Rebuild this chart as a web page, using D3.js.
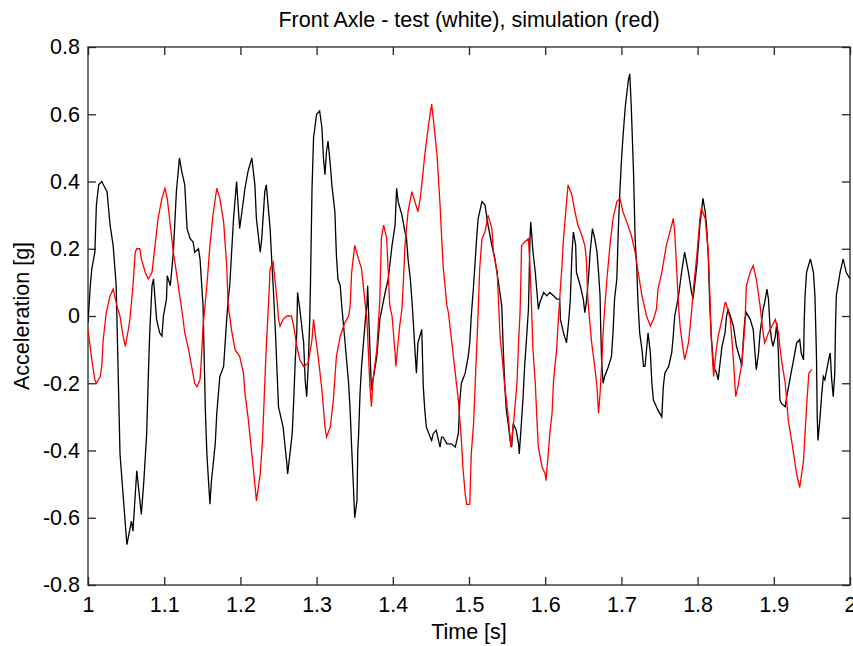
<!DOCTYPE html>
<html><head><meta charset="utf-8">
<script src="https://cdn.jsdelivr.net/npm/d3@7"></script>
<style>body{margin:0;background:#fff}svg{display:block}text{font-family:"Liberation Sans",Arial,sans-serif;fill:#000}</style>
</head><body><svg id="c" width="853" height="646"></svg>
<script>
const title = "Front Axle - test (white), simulation (red)";
const xLabel = "Time [s]";
const yLabel = "Acceleration [g]";
const xTicks = [1, 1.1, 1.2, 1.3, 1.4, 1.5, 1.6, 1.7, 1.8, 1.9, 2];
const yTicks = [-0.8, -0.6, -0.4, -0.2, 0, 0.2, 0.4, 0.6, 0.8];

// test (black) series
const testT = [1.000,1.003,1.005,1.009,1.011,1.014,1.018,1.025,1.029,1.033,1.037,1.039,1.042,1.051,1.057,1.059,1.064,1.070,1.073,1.077,1.079,1.081,1.084,1.086,1.090,1.094,1.097,1.099,1.103,1.104,1.108,1.112,1.116,1.120,1.123,1.127,1.130,1.134,1.138,1.140,1.145,1.147,1.151,1.154,1.156,1.160,1.162,1.167,1.169,1.173,1.178,1.182,1.184,1.186,1.191,1.195,1.199,1.202,1.206,1.210,1.215,1.219,1.221,1.226,1.228,1.232,1.234,1.239,1.241,1.243,1.246,1.250,1.256,1.261,1.262,1.265,1.268,1.270,1.272,1.274,1.275,1.278,1.283,1.285,1.287,1.289,1.291,1.292,1.294,1.296,1.300,1.304,1.307,1.309,1.311,1.313,1.315,1.318,1.320,1.324,1.326,1.328,1.331,1.333,1.337,1.342,1.344,1.346,1.348,1.350,1.353,1.354,1.355,1.357,1.359,1.364,1.366,1.367,1.370,1.372,1.379,1.383,1.390,1.394,1.399,1.403,1.405,1.407,1.412,1.416,1.418,1.420,1.423,1.425,1.427,1.429,1.431,1.433,1.438,1.440,1.442,1.444,1.449,1.451,1.453,1.457,1.462,1.464,1.466,1.471,1.477,1.482,1.486,1.488,1.490,1.495,1.499,1.501,1.503,1.506,1.508,1.510,1.512,1.517,1.521,1.525,1.530,1.534,1.538,1.543,1.545,1.547,1.549,1.552,1.554,1.556,1.558,1.562,1.565,1.566,1.569,1.571,1.573,1.576,1.578,1.579,1.580,1.581,1.584,1.587,1.591,1.593,1.598,1.602,1.606,1.611,1.615,1.619,1.620,1.624,1.628,1.631,1.633,1.635,1.637,1.640,1.641,1.646,1.650,1.652,1.654,1.657,1.659,1.662,1.665,1.668,1.670,1.672,1.673,1.674,1.676,1.678,1.683,1.687,1.689,1.691,1.694,1.696,1.698,1.700,1.702,1.705,1.707,1.709,1.711,1.713,1.716,1.718,1.720,1.722,1.724,1.727,1.729,1.731,1.735,1.738,1.740,1.742,1.748,1.753,1.755,1.757,1.762,1.766,1.768,1.770,1.775,1.779,1.783,1.788,1.792,1.794,1.799,1.803,1.807,1.810,1.812,1.814,1.816,1.818,1.821,1.825,1.827,1.829,1.832,1.836,1.838,1.840,1.843,1.847,1.851,1.856,1.858,1.860,1.862,1.864,1.869,1.873,1.875,1.877,1.880,1.882,1.886,1.888,1.891,1.893,1.895,1.897,1.899,1.902,1.904,1.906,1.908,1.910,1.915,1.917,1.921,1.926,1.930,1.934,1.936,1.939,1.940,1.941,1.943,1.948,1.952,1.954,1.956,1.957,1.958,1.960,1.963,1.965,1.967,1.972,1.974,1.976,1.978,1.980,1.981,1.982,1.987,1.991,1.995,2.000];
const testV = [-0.02,0.09,0.14,0.19,0.33,0.39,0.40,0.37,0.27,0.21,0.09,-0.11,-0.41,-0.68,-0.61,-0.64,-0.46,-0.59,-0.50,-0.35,-0.19,-0.05,0.09,0.11,-0.01,-0.05,-0.06,0.00,0.05,0.12,0.09,0.19,0.37,0.47,0.43,0.39,0.26,0.23,0.22,0.19,0.20,0.17,0.03,-0.28,-0.41,-0.56,-0.49,-0.38,-0.29,-0.18,-0.15,-0.01,0.05,0.09,0.29,0.40,0.26,0.31,0.38,0.43,0.47,0.39,0.29,0.19,0.23,0.37,0.39,0.26,0.17,0.09,-0.05,-0.27,-0.33,-0.44,-0.47,-0.41,-0.35,-0.25,-0.13,-0.05,0.07,0.02,-0.08,-0.19,-0.24,-0.15,-0.01,0.10,0.38,0.53,0.60,0.61,0.56,0.47,0.42,0.49,0.52,0.45,0.39,0.31,0.18,0.11,0.09,0.03,-0.07,-0.20,-0.28,-0.39,-0.49,-0.60,-0.55,-0.40,-0.36,-0.23,-0.15,-0.01,0.03,0.09,-0.10,-0.22,-0.12,-0.01,0.07,0.11,0.21,0.27,0.38,0.34,0.30,0.25,0.23,0.17,0.11,0.05,-0.02,-0.10,-0.17,-0.08,-0.04,-0.21,-0.28,-0.33,-0.36,-0.37,-0.35,-0.34,-0.39,-0.36,-0.36,-0.38,-0.38,-0.39,-0.35,-0.25,-0.20,-0.17,-0.12,-0.08,0.00,0.09,0.16,0.23,0.29,0.34,0.33,0.27,0.21,0.17,0.11,0.03,-0.10,-0.21,-0.28,-0.33,-0.37,-0.39,-0.32,-0.34,-0.38,-0.41,-0.31,-0.24,-0.15,-0.05,0.02,0.12,0.23,0.28,0.19,0.13,0.02,0.04,0.07,0.06,0.07,0.06,0.05,0.05,-0.01,-0.05,-0.08,-0.01,0.05,0.18,0.25,0.21,0.13,0.09,0.05,0.01,0.04,0.12,0.19,0.26,0.23,0.19,0.13,0.06,-0.05,-0.13,-0.20,-0.18,-0.15,-0.12,-0.05,0.05,0.11,0.26,0.37,0.46,0.53,0.62,0.66,0.70,0.72,0.62,0.42,0.23,0.15,0.03,-0.05,-0.10,-0.15,-0.15,-0.05,-0.11,-0.20,-0.25,-0.28,-0.30,-0.21,-0.17,-0.15,-0.11,-0.06,0.00,0.06,0.13,0.19,0.13,0.07,0.05,0.15,0.27,0.35,0.31,0.26,0.18,0.03,-0.06,-0.15,-0.17,-0.19,-0.15,-0.09,-0.05,0.00,0.02,0.00,-0.03,-0.09,-0.13,-0.15,-0.07,-0.01,0.01,-0.01,-0.04,-0.10,-0.16,-0.11,-0.05,0.02,0.04,0.08,0.05,-0.03,-0.07,-0.09,-0.06,-0.02,-0.11,-0.25,-0.26,-0.27,-0.24,-0.19,-0.13,-0.08,-0.07,-0.11,-0.13,-0.01,0.06,0.13,0.17,0.13,0.06,-0.12,-0.30,-0.37,-0.32,-0.23,-0.18,-0.19,-0.13,-0.11,-0.19,-0.24,-0.17,-0.03,0.06,0.13,0.17,0.13,0.11];

// simulation (red) series
const simT = [1.000,1.005,1.009,1.011,1.016,1.018,1.020,1.024,1.029,1.033,1.038,1.042,1.046,1.049,1.053,1.055,1.059,1.062,1.064,1.068,1.070,1.075,1.079,1.084,1.088,1.092,1.097,1.101,1.104,1.108,1.112,1.116,1.121,1.123,1.127,1.132,1.136,1.140,1.143,1.147,1.149,1.151,1.156,1.160,1.164,1.169,1.173,1.178,1.182,1.184,1.189,1.193,1.199,1.204,1.206,1.210,1.215,1.219,1.221,1.226,1.229,1.232,1.234,1.237,1.239,1.243,1.248,1.250,1.252,1.256,1.261,1.267,1.270,1.274,1.278,1.283,1.289,1.294,1.296,1.298,1.302,1.307,1.311,1.313,1.318,1.322,1.326,1.331,1.337,1.342,1.344,1.346,1.350,1.355,1.359,1.364,1.366,1.370,1.372,1.374,1.379,1.383,1.385,1.388,1.392,1.394,1.396,1.399,1.403,1.404,1.409,1.412,1.414,1.416,1.420,1.425,1.429,1.433,1.436,1.438,1.442,1.447,1.451,1.453,1.458,1.462,1.466,1.471,1.473,1.477,1.482,1.486,1.490,1.492,1.495,1.497,1.501,1.503,1.506,1.508,1.510,1.512,1.514,1.517,1.521,1.525,1.530,1.532,1.537,1.539,1.541,1.543,1.547,1.552,1.555,1.558,1.563,1.565,1.567,1.568,1.569,1.573,1.578,1.580,1.582,1.584,1.587,1.589,1.591,1.596,1.600,1.601,1.604,1.606,1.609,1.611,1.615,1.617,1.619,1.622,1.624,1.627,1.630,1.635,1.639,1.643,1.648,1.652,1.654,1.656,1.659,1.661,1.665,1.668,1.670,1.672,1.674,1.676,1.678,1.681,1.685,1.689,1.694,1.698,1.702,1.707,1.713,1.718,1.722,1.727,1.733,1.738,1.742,1.746,1.748,1.753,1.759,1.766,1.768,1.770,1.775,1.777,1.781,1.783,1.788,1.792,1.794,1.799,1.803,1.805,1.810,1.814,1.816,1.818,1.821,1.824,1.827,1.832,1.836,1.837,1.843,1.847,1.850,1.853,1.858,1.862,1.864,1.869,1.873,1.877,1.882,1.886,1.888,1.893,1.902,1.906,1.910,1.915,1.919,1.924,1.930,1.934,1.939,1.941,1.943,1.946,1.950];
const simV = [-0.04,-0.13,-0.19,-0.20,-0.18,-0.15,-0.07,0.01,0.06,0.08,0.03,0.00,-0.06,-0.09,-0.04,-0.01,0.09,0.19,0.20,0.20,0.17,0.13,0.11,0.13,0.21,0.29,0.35,0.38,0.35,0.27,0.19,0.13,0.05,0.02,-0.05,-0.10,-0.15,-0.20,-0.21,-0.19,-0.12,-0.03,0.09,0.21,0.30,0.38,0.35,0.28,0.15,0.03,-0.05,-0.10,-0.12,-0.17,-0.23,-0.30,-0.41,-0.50,-0.55,-0.47,-0.37,-0.20,-0.09,0.04,0.14,0.16,0.05,-0.01,-0.03,-0.01,0.00,0.00,-0.03,-0.09,-0.13,-0.15,-0.14,-0.07,-0.01,-0.05,-0.12,-0.22,-0.33,-0.36,-0.33,-0.25,-0.12,-0.06,-0.02,0.00,0.03,0.13,0.21,0.17,0.14,0.03,-0.01,-0.21,-0.27,-0.19,-0.10,0.05,0.23,0.27,0.23,0.13,0.03,0.00,-0.11,-0.15,-0.03,0.02,0.11,0.21,0.31,0.37,0.34,0.31,0.35,0.39,0.48,0.57,0.63,0.59,0.48,0.33,0.15,0.03,0.01,-0.07,-0.17,-0.25,-0.37,-0.45,-0.53,-0.56,-0.56,-0.41,-0.32,-0.21,-0.10,0.01,0.14,0.23,0.25,0.30,0.26,0.19,0.13,0.03,-0.07,-0.11,-0.21,-0.31,-0.39,-0.33,-0.20,-0.08,0.01,0.10,0.21,0.22,0.23,0.15,0.03,-0.10,-0.20,-0.30,-0.39,-0.45,-0.47,-0.49,-0.41,-0.35,-0.29,-0.19,-0.10,-0.02,0.05,0.15,0.23,0.31,0.39,0.36,0.31,0.27,0.24,0.21,0.17,0.05,-0.03,-0.08,-0.15,-0.21,-0.29,-0.23,-0.15,-0.05,0.02,0.11,0.21,0.29,0.34,0.35,0.31,0.28,0.24,0.19,0.13,0.06,0.00,-0.03,-0.01,0.02,0.08,0.13,0.21,0.27,0.29,0.25,0.03,-0.03,-0.10,-0.13,-0.08,0.01,0.07,0.18,0.29,0.32,0.29,0.19,0.07,-0.07,-0.18,-0.11,-0.06,-0.01,0.04,0.04,-0.01,-0.13,-0.24,-0.21,-0.14,-0.03,0.09,0.13,0.15,0.11,0.03,-0.05,-0.08,-0.05,-0.01,-0.05,-0.13,-0.20,-0.31,-0.38,-0.47,-0.51,-0.43,-0.35,-0.27,-0.17,-0.16];

const svg = d3.select("#c");
const L = 88, R = 850, T = 47, B = 585;
const x = d3.scaleLinear().domain([1, 2]).range([L, R]);
const y = d3.scaleLinear().domain([-0.8, 0.8]).range([B, T]);

const axCol = "#262626";
const fs = 21.5;
const fmt = d => String(+d.toFixed(1));

// Frame
svg.append("rect").attr("x", L).attr("y", T).attr("width", R - L).attr("height", B - T)
  .attr("fill", "#fff").attr("stroke", axCol).attr("stroke-width", 1.3);

// Axes with inward ticks on all four sides
const tl = 8;
const styleTicks = g => { g.select(".domain").remove(); g.selectAll("line").attr("stroke", axCol).attr("stroke-width", 1.3);
  g.selectAll("text").attr("font-size", fs).attr("font-family", "Liberation Sans, Arial, sans-serif").attr("fill", "#111"); };
svg.append("g").attr("transform", `translate(0,${B})`)
  .call(d3.axisBottom(x).tickValues(xTicks).tickSizeInner(-tl).tickSizeOuter(0).tickPadding(12).tickFormat(fmt))
  .call(styleTicks);
svg.append("g").attr("transform", `translate(0,${T})`)
  .call(d3.axisTop(x).tickValues(xTicks).tickSizeInner(-tl).tickSizeOuter(0).tickFormat(""))
  .call(styleTicks);
svg.append("g").attr("transform", `translate(${L},0)`)
  .call(d3.axisLeft(y).tickValues(yTicks).tickSizeInner(-tl).tickSizeOuter(0).tickPadding(8).tickFormat(fmt))
  .call(styleTicks);
svg.append("g").attr("transform", `translate(${R},0)`)
  .call(d3.axisRight(y).tickValues(yTicks).tickSizeInner(-tl).tickSizeOuter(0).tickFormat(""))
  .call(styleTicks);

// Lines
const line = d3.line().x(d => x(d[0])).y(d => y(d[1]));
svg.append("clipPath").attr("id", "pc").append("rect")
  .attr("x", L).attr("y", T).attr("width", R - L).attr("height", B - T);
svg.append("path").datum(testT.map((t, i) => [t, testV[i]]))
  .attr("d", line).attr("fill", "none").attr("stroke", "#000").attr("stroke-width", 1.3)
  .attr("clip-path", "url(#pc)");
svg.append("path").datum(simT.map((t, i) => [t, simV[i]]))
  .attr("d", line).attr("fill", "none").attr("stroke", "#ff0000").attr("stroke-width", 1.3)
  .attr("clip-path", "url(#pc)");

// Labels
svg.append("text").attr("x", (L + R) / 2).attr("y", 27).attr("text-anchor", "middle")
  .attr("font-size", fs).attr("fill", "#111").text(title);
svg.append("text").attr("x", (L + R) / 2).attr("y", 639).attr("text-anchor", "middle")
  .attr("font-size", fs).attr("fill", "#111").text(xLabel);
svg.append("text").attr("transform", `translate(29,${(T + B) / 2}) rotate(-90)`).attr("text-anchor", "middle")
  .attr("font-size", fs).attr("fill", "#111").text(yLabel);
</script></body></html>
